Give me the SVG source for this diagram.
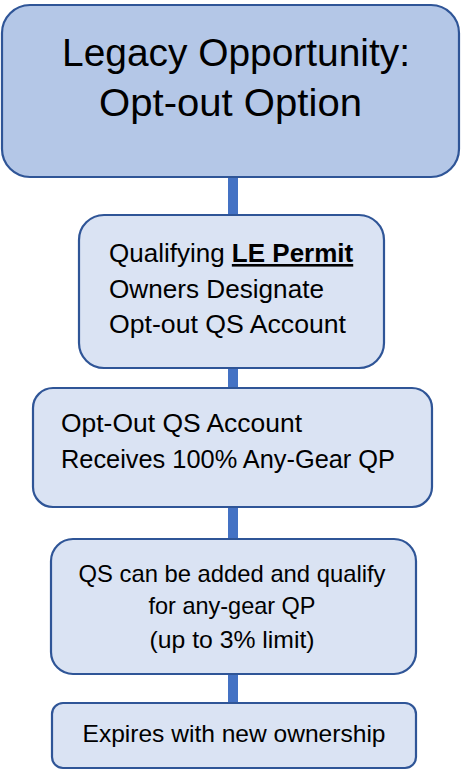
<svg xmlns="http://www.w3.org/2000/svg" width="461" height="771" viewBox="0 0 461 771">
  <style>
    .box { stroke: #2f5597; stroke-width: 2.2; }
    .top { fill: #b4c7e7; }
    .sub { fill: #dae3f3; }
    .conn { stroke: #4472c4; stroke-width: 10; fill: none; }
    text { font-family: "Liberation Sans", Arial, sans-serif; fill: #000000; }
    .t1 { font-size: 38px; }
    .t2 { font-size: 26px; }
    .t3 { font-size: 24px; }
  </style>
  <rect width="461" height="771" fill="#ffffff"/>
  <g id="connectors">
    <line class="conn" x1="233" y1="177" x2="233" y2="215"/>
    <line class="conn" x1="233" y1="368" x2="233" y2="388"/>
    <line class="conn" x1="233" y1="507" x2="233" y2="539"/>
    <line class="conn" x1="233" y1="674" x2="233" y2="703"/>
  </g>
  <g id="node-title">
    <rect class="box top" x="2" y="5" width="457" height="172" rx="28" ry="28"/>
    <text class="t1" x="62" y="66" textLength="348" lengthAdjust="spacingAndGlyphs">Legacy Opportunity:</text>
    <text class="t1" x="99" y="116" textLength="263" lengthAdjust="spacingAndGlyphs">Opt-out Option</text>
  </g>
  <g id="node-designate">
    <rect class="box sub" x="79" y="215" width="305" height="153" rx="25" ry="25"/>
    <text class="t2" x="109" y="262">Qualifying <tspan font-weight="bold" text-decoration="underline">LE Permit</tspan></text>
    <text class="t2" x="109" y="298" textLength="215" lengthAdjust="spacingAndGlyphs">Owners Designate</text>
    <text class="t2" x="109" y="333" textLength="237" lengthAdjust="spacingAndGlyphs">Opt-out QS Account</text>
  </g>
  <g id="node-receives">
    <rect class="box sub" x="33" y="388" width="399" height="119" rx="20" ry="20"/>
    <text class="t2" x="61" y="432" textLength="241" lengthAdjust="spacingAndGlyphs">Opt-Out QS Account</text>
    <text class="t2" x="61" y="468" textLength="334" lengthAdjust="spacingAndGlyphs">Receives 100% Any-Gear QP</text>
  </g>
  <g id="node-added">
    <rect class="box sub" x="51" y="539" width="365" height="135" rx="22" ry="22"/>
    <text class="t3" x="232" y="582" text-anchor="middle" textLength="307" lengthAdjust="spacingAndGlyphs">QS can be added and qualify</text>
    <text class="t3" x="232" y="614" text-anchor="middle" textLength="167" lengthAdjust="spacingAndGlyphs">for any-gear QP</text>
    <text class="t3" x="232" y="648" text-anchor="middle" textLength="165" lengthAdjust="spacingAndGlyphs">(up to 3% limit)</text>
  </g>
  <g id="node-expires">
    <rect class="box sub" x="52" y="703" width="364" height="65" rx="11" ry="11"/>
    <text class="t3" x="234" y="742" text-anchor="middle" textLength="303" lengthAdjust="spacingAndGlyphs">Expires with new ownership</text>
  </g>
</svg>
